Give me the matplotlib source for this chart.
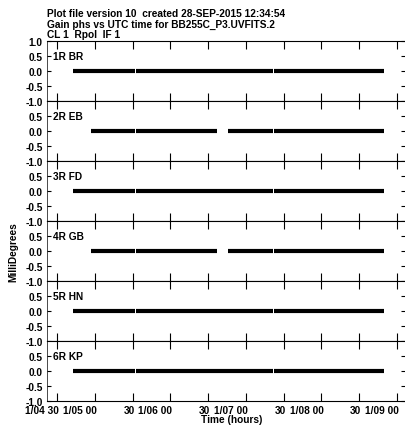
import matplotlib
matplotlib.use("Agg")
import matplotlib.pyplot as plt
from matplotlib.transforms import ScaledTranslation

plt.rcParams['font.family'] = ['Liberation Sans', 'DejaVu Sans']
plt.rcParams['font.weight'] = 'bold'
plt.rcParams['font.size'] = 7.3

# Antennas and the time ranges (UT hours on day 1) where CL gains exist
antennas = ["1R BR", "2R EB", "3R FD", "4R GB", "5R HN", "6R KP"]
segments = [
    [(4.711, 5.527), (5.540, 7.353), (7.367, 8.830)],
    [(4.950, 5.527), (5.540, 6.619), (6.764, 7.353), (7.367, 8.830)],
    [(4.711, 5.527), (5.540, 7.353), (7.367, 8.830)],
    [(4.950, 5.527), (5.540, 6.619), (6.764, 7.353), (7.367, 8.830)],
    [(4.711, 5.527), (5.540, 7.353), (7.367, 8.830)],
    [(4.711, 5.527), (5.540, 7.353), (7.367, 8.830)],
]
phase = [0.0, 0.0, 0.0, 0.0, 0.0, 0.0]  # millidegrees

tick_hours = [4.5, 5.0, 5.5, 6.0, 6.5, 7.0, 7.5, 8.0, 8.5, 9.0]
tick_labels = ["1/04 30", "1/05 00", "30", "1/06 00", "30", "1/07 00",
               "30", "1/08 00", "30", "1/09 00"]
xlim = (4.367, 9.107)

W, H = 406, 427
fig = plt.figure(figsize=(W / 100, H / 100), dpi=100)

left, right = 47, 405
top, panel_h = 42, 60

fig.text(47 / W, 1 - 14 / H, "Plot file version 10  created 28-SEP-2015 12:34:54",
         va='center', ha='left')
fig.text(47 / W, 1 - 24.5 / H, "Gain phs vs UTC time for BB255C_P3.UVFITS.2",
         va='center', ha='left')
fig.text(47 / W, 1 - 35 / H, "CL 1  Rpol  IF 1", va='center', ha='left')

for i, name in enumerate(antennas):
    y0 = top + panel_h * (i + 1)
    ax = fig.add_axes([left / W, 1 - y0 / H, (right - left) / W, panel_h / H])
    for t0, t1 in segments[i]:
        ax.plot([t0, t1], [phase[i], phase[i]], color='black', lw=3.0,
                solid_capstyle='butt')
    ax.set_xlim(*xlim)
    ax.set_ylim(-1, 1)
    ax.text(0.017, 0.75, name, transform=ax.transAxes, ha='left', va='center')

    yt = [-1.0, -0.5, 0.0, 0.5] + ([1.0] if i == 0 else [])
    ax.set_yticks(yt)
    ax.set_yticklabels([f"{v:.1f}" for v in yt])
    ax.set_xticks(tick_hours)
    ax.tick_params(axis='x', direction='in', length=5.5, width=0.8,
                   top=True, bottom=True, pad=3)
    ax.tick_params(axis='y', direction='in', length=3, width=0.8,
                   left=True, right=True, pad=3)
    if i == len(antennas) - 1:
        ax.set_xticklabels(tick_labels)
        shift = ScaledTranslation(2 / 100, 0, fig.dpi_scale_trans)
        for lab in ax.get_xticklabels():
            lab.set_horizontalalignment('right')
            lab.set_transform(lab.get_transform() + shift)
    else:
        ax.set_xticklabels([])
    for side, s in ax.spines.items():
        s.set_linewidth(0.8 if side in ('top', 'bottom') else 0.5)

fig.text(232 / W, 1 - 420 / H, "Time (hours)", ha='center', va='center')
fig.text(13 / W, 1 - 252 / H, "MilliDegrees", ha='center', va='center',
         rotation=90)

fig.savefig("out.png", dpi=100)
